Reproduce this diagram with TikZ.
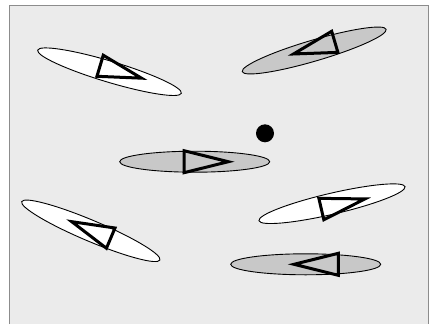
\documentclass[tikz,border=0pt]{standalone}
\definecolor{bgc}{HTML}{EBEBEB}
\definecolor{framec}{HTML}{8C8C8C}
\definecolor{ellgray}{HTML}{C8C8C8}
\tikzset{
  ell/.style={draw=black,line width=0.9pt},
  tri/.style={draw=black,line width=3pt,line join=miter},
}
\newcommand\myblob[7]{%
  \begin{scope}[shift={(#1,#2)},rotate=#3]
    \draw[ell,fill=#4] (0,0) ellipse [x radius=75pt,y radius=10.5pt];
    \draw[tri] (#5,{#7-11}) -- (#6,#7) -- (#5,{#7+11}) -- cycle;
  \end{scope}}
\begin{document}
\begin{tikzpicture}[x=1pt,y=-1pt]
\useasboundingbox (0,0) rectangle (431,324);
\fill[bgc] (9,5) rectangle (428,324);
\draw[framec,line width=1pt] (9,324) -- (9,5) -- (428,5) -- (428,324);
\myblob{109.5}{71.7}{-16.7}{white}{-10.7}{32.5}{-3}
\myblob{314.2}{50.5}{16.4}{ellgray}{22.2}{-20.8}{-2.5}
\myblob{194.7}{161.7}{0}{ellgray}{-10.7}{33.6}{0}
\myblob{90.8}{230.8}{-22.9}{white}{21.2}{-21.1}{-1}
\myblob{332}{203.7}{13.1}{white}{-11.6}{33.1}{2.8}
\myblob{305.7}{264.3}{0}{ellgray}{32.6}{-11.7}{0}
\fill[black] (265,133.3) circle [radius=9pt];
\end{tikzpicture}
\end{document}
